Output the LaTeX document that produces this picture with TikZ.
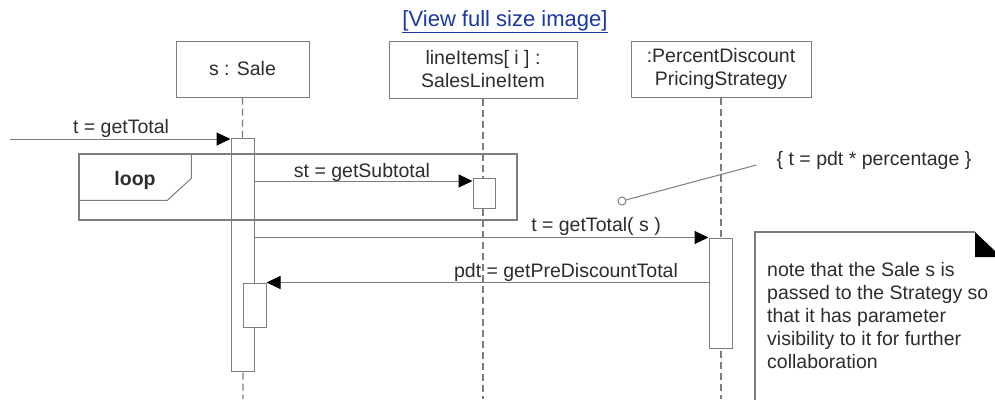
\documentclass[tikz,border=0pt]{standalone}
\usepackage{fontspec}
\setmainfont{Liberation Sans}
\usetikzlibrary{arrows.meta}
\definecolor{linkblue}{RGB}{25,55,165}
\definecolor{ln}{RGB}{125,125,125}
\definecolor{tx}{RGB}{45,45,45}
\begin{document}
\begin{tikzpicture}[x=1pt,y=-1pt,
  every node/.style={font=\fontsize{19.5}{23}\selectfont, text=tx},
  head/.style={draw=ln, line width=1pt, fill=white, align=center, inner sep=0pt},
  life/.style={draw=ln, line width=1.2pt, dash pattern=on 7pt off 4pt},
  act/.style={draw=ln, line width=1pt, fill=white, inner sep=0pt, minimum width=23pt},
  msg/.style={draw=ln, line width=1pt, -{Triangle[length=14pt,width=13pt,color=black]}},
  lbl/.style={inner sep=0pt}
]
\useasboundingbox (0,0) rectangle (995,399);
\fill[white] (0,0) rectangle (995,399);

% link
\node[lbl, text=linkblue, font=\fontsize{22}{26}\selectfont] (link) at (505,22) {\underline{[View full size image]}};

% heads
\node[head, minimum width=133pt, minimum height=56pt] (sale) at (242.5,69) {s : Sale};
\node[head, minimum width=188pt, minimum height=57pt] (items) at (483,69.5) {lineItems[ i ] :\\SalesLineItem};
\node[head, minimum width=180pt, minimum height=56pt] (strat) at (721,69) {:PercentDiscount\\PricingStrategy};

% lifeline ends
\coordinate (saleEnd) at (243,399);
\coordinate (itemsEnd) at (483,399);
\coordinate (stratEnd) at (721,399);
\draw[life] (sale.south) -- (saleEnd);
\draw[life] (items.south) -- (itemsEnd);
\draw[life] (strat.south) -- (stratEnd);

% activations
\node[act, minimum height=233pt] (actS) at (242.5,254.5) {};
\node[act, minimum height=44pt] (actS2) at (254.5,305) {};
\node[act, minimum width=22pt, minimum height=30pt] (actI) at (484,193) {};
\node[act, minimum height=110pt] (actP) at (720.5,293) {};

% loop frame
\node[draw=ln, line width=1.3pt, minimum width=438pt, minimum height=66pt, inner sep=0pt] (loopf) at (298,187) {};
\draw[ln, line width=1pt] (loopf.north west) ++(0,47) -- ++(89,0) -- ++(24,-22) -- ++(0,-25);
\node[lbl, font=\fontsize{19.5}{23}\selectfont\bfseries] (looplbl) at (135,180) {loop};

% messages
\coordinate (f0) at (10,139);
\draw[msg] (f0) -- (f0 -| actS.west);
\node[lbl] (m0) at (121,128) {t = getTotal};

\draw[msg] (actS.east |- 0,181) -- (actI.west |- 0,181);
\node[lbl] (m1) at (362,172) {st = getSubtotal};

\draw[msg] (actS.east |- actP.north) -- (actP.north west);
\node[lbl] (m2) at (596,226) {t = getTotal( s )};

\draw[msg] (actP.west |- actS2.north) -- (actS2.north east);
\node[lbl] (m3) at (566,272) {pdt = getPreDiscountTotal};

% constraint
\node[lbl] (cnote) at (874,160) {\{ t = pdt * percentage \}};
\node[circle, draw=ln, line width=1pt, fill=white, inner sep=0pt, minimum size=8pt] (cc) at (622,201) {};
\draw[ln, line width=1pt] (cc) -- ([xshift=-20pt,yshift=-5pt]cnote.west);

% note
\draw[ln, line width=1.2pt] (755,400) -- (755,232) -- (975,232);
\fill[black] (975,232) -- (995,251) -- (995,257) -- (975,257) -- cycle;
\node[lbl, anchor=north west, align=left] (note) at (767,262) {note that the Sale s is\\passed to the Strategy so\\that it has parameter\\visibility to it for further\\collaboration};
\end{tikzpicture}
\end{document}
